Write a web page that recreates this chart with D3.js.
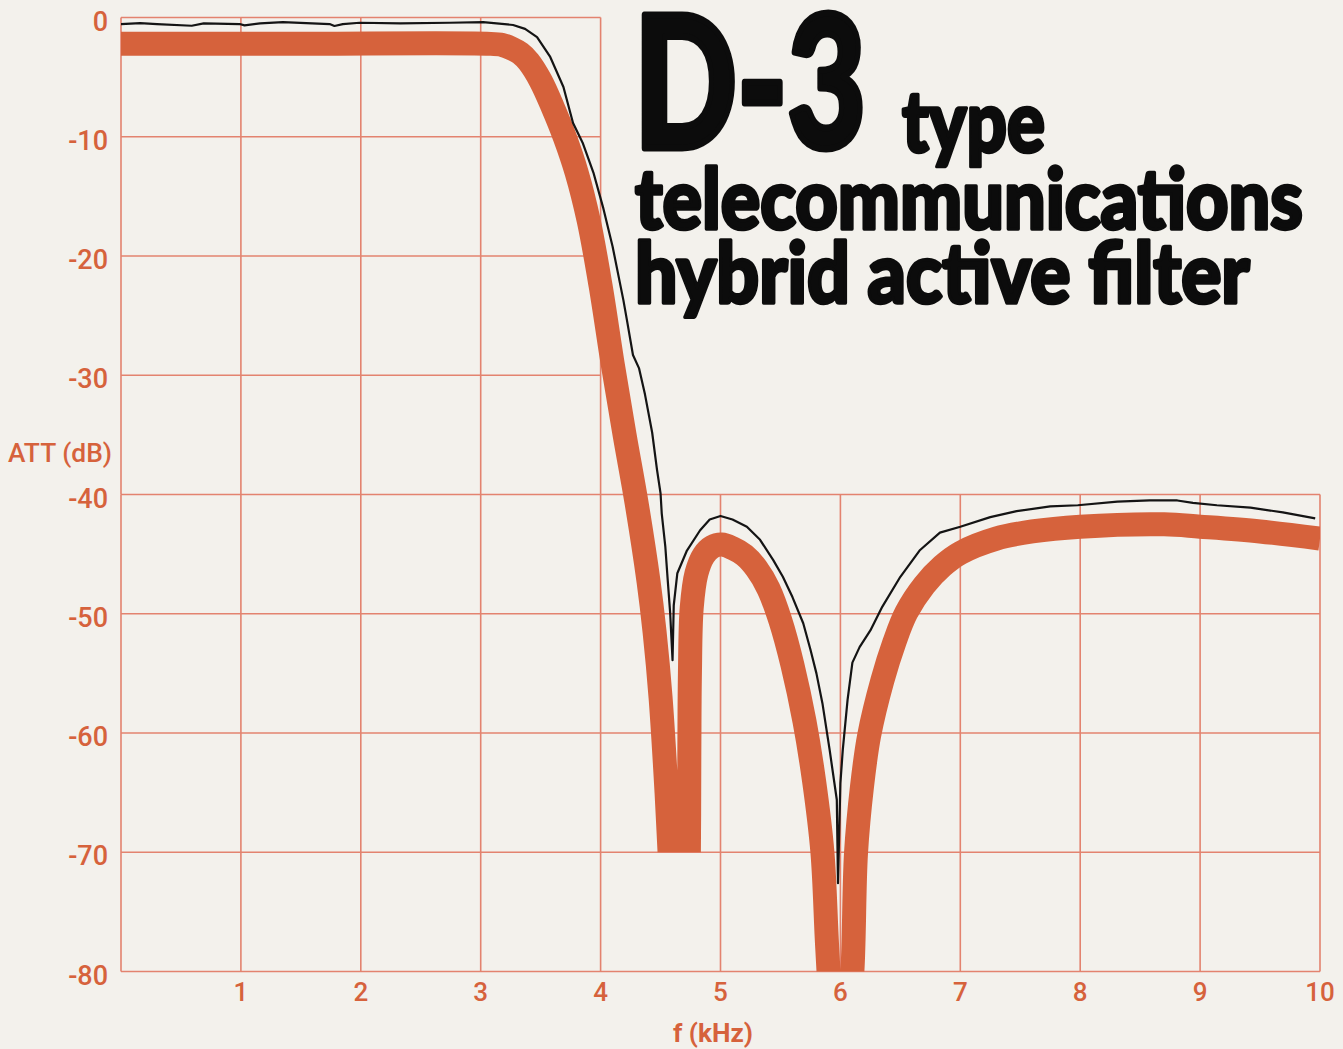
<!DOCTYPE html>
<html>
<head>
<meta charset="utf-8">
<script src="https://cdn.jsdelivr.net/npm/d3@7"></script>
<style>
  html, body { margin: 0; padding: 0; background: #f3f1ec; }
  svg { display: block; }
</style>
</head>
<body>
<svg id="chart"></svg>
<script>
const W = 1343, H = 1049;

// axis ticks
const freqTicks = [1, 2, 3, 4, 5, 6, 7, 8, 9, 10];
const attTicks = [0, -10, -20, -30, -40, -50, -60, -70, -80];
// grid: upper part only left of 4 kHz
const upperGridKHz = [0, 1, 2, 3, 4];
const lowerGridKHz = [0, 1, 2, 3, 4, 5, 6, 7, 8, 9, 10];
const upperGridDB = [0, -10, -20, -30];
const lowerGridDB = [-40, -50, -60, -70, -80];

// tolerance mask (thick orange band), centre line
const maskKHz = [0, 1.5, 3.05, 3.18, 3.26, 3.33, 3.40, 3.50, 3.60, 3.70, 3.80, 3.90, 4.00, 4.10, 4.20, 4.30, 4.40, 4.45, 4.50, 4.55, 4.58, 4.62, 4.67, 4.72, 4.735, 4.74, 4.745, 4.76, 4.80, 4.86, 4.93, 5.01, 5.10, 5.20, 5.30, 5.40, 5.50, 5.60, 5.70, 5.78, 5.85, 5.89, 5.94, 5.99, 6.05, 6.10, 6.13, 6.18, 6.24, 6.35, 6.45, 6.55, 6.70, 6.85, 7.0, 7.3, 7.6, 8.0, 8.7, 9.0, 9.5, 10];
const maskDB = [-2.2, -2.2, -2.2, -2.3, -2.6, -3.0, -3.7, -5.3, -7.5, -10.0, -13.0, -17.0, -22.5, -29.0, -35.0, -40.7, -47.3, -51.5, -57.0, -65.0, -71.0, -78, -82, -78, -72, -62, -55, -49.5, -46.6, -45.1, -44.4, -44.2, -44.5, -45.1, -46.2, -47.9, -50.6, -54.3, -59.0, -64.0, -70.0, -78, -86, -90, -86, -80, -70.1, -64.5, -60.2, -55.6, -52.4, -49.9, -47.6, -46.0, -44.9, -43.7, -43.1, -42.7, -42.5, -42.7, -43.1, -43.7];

// measured response (black trace)
const measKHz = [0, 0.16, 0.30, 0.59, 0.69, 0.99, 1.03, 1.16, 1.35, 1.74, 1.78, 1.85, 1.99, 2.33, 2.74, 3.02, 3.27, 3.37, 3.47, 3.58, 3.69, 3.77, 3.85, 3.94, 4.02, 4.10, 4.19, 4.22, 4.27, 4.32, 4.37, 4.43, 4.47, 4.50, 4.51, 4.54, 4.56, 4.58, 4.60, 4.61, 4.64, 4.72, 4.83, 4.91, 5.00, 5.10, 5.22, 5.33, 5.44, 5.52, 5.60, 5.69, 5.75, 5.80, 5.85, 5.91, 5.97, 5.98, 6.00, 6.02, 6.06, 6.10, 6.16, 6.25, 6.35, 6.50, 6.66, 6.83, 7.00, 7.25, 7.47, 7.75, 7.98, 8.31, 8.58, 8.81, 8.94, 9.14, 9.42, 9.69, 9.96];
const measDB = [-0.55, -0.47, -0.55, -0.69, -0.49, -0.55, -0.66, -0.49, -0.38, -0.55, -0.71, -0.55, -0.44, -0.49, -0.44, -0.38, -0.63, -0.95, -1.64, -3.31, -5.83, -8.85, -10.5, -13.0, -15.9, -19.2, -23.7, -25.4, -28.3, -29.4, -31.6, -34.8, -37.9, -39.9, -41.6, -44.4, -47.2, -49.9, -53.9, -49.3, -46.6, -44.7, -43.0, -42.1, -41.8, -42.1, -42.7, -43.8, -45.5, -46.9, -48.6, -50.8, -53.0, -55.0, -57.5, -61.4, -65.6, -72.6, -64.2, -61.4, -57.2, -54.1, -52.8, -51.4, -49.4, -46.9, -44.7, -43.2, -42.7, -41.9, -41.4, -41.0, -40.9, -40.6, -40.5, -40.5, -40.7, -40.9, -41.1, -41.5, -42.0];

// floors where the mask is cut off
const floorSplitKHz = 5.3;
const floorLeftDB = -70;
const floorRightDB = -80;

const titleLines = ["D-3", "type", "telecommunications", "hybrid active filter"];

const red = "#d6623c";
const gridColor = "#e3836f";

const svg = d3.select("#chart").attr("width", W).attr("height", H);

const x = d3.scaleLinear().domain([0, 10]).range([121, 1320]);
const y = d3.scaleLinear().domain([0, -80]).range([17.5, 971.5]);

svg.append("rect").attr("width", W).attr("height", H).attr("fill", "#f3f1ec");

// grid
const grid = svg.append("g").attr("stroke", gridColor).attr("stroke-width", 1.6);
grid.selectAll("line.vu").data(upperGridKHz).join("line")
  .attr("x1", d => x(d)).attr("x2", d => x(d))
  .attr("y1", y(0)).attr("y2", y(-40));
grid.selectAll("line.vl").data(lowerGridKHz).join("line")
  .attr("x1", d => x(d)).attr("x2", d => x(d))
  .attr("y1", y(-40)).attr("y2", y(-80));
grid.selectAll("line.hu").data(upperGridDB).join("line")
  .attr("x1", x(0)).attr("x2", x(4))
  .attr("y1", d => y(d)).attr("y2", d => y(d));
grid.selectAll("line.hl").data(lowerGridDB).join("line")
  .attr("x1", x(0)).attr("x2", x(10))
  .attr("y1", d => y(d)).attr("y2", d => y(d));

// clip for the mask band
const clip = svg.append("clipPath").attr("id", "maskClip");
clip.append("rect")
  .attr("x", x(0)).attr("y", 0)
  .attr("width", x(floorSplitKHz) - x(0)).attr("height", y(floorLeftDB));
clip.append("rect")
  .attr("x", x(floorSplitKHz)).attr("y", 0)
  .attr("width", x(10) - x(floorSplitKHz)).attr("height", y(floorRightDB));

const maskData = d3.zip(maskKHz, maskDB);
const measData = d3.zip(measKHz, measDB);

svg.append("path")
  .datum(maskData)
  .attr("clip-path", "url(#maskClip)")
  .attr("fill", "none")
  .attr("stroke", red)
  .attr("stroke-width", 24)
  .attr("stroke-linejoin", "round")
  .attr("d", d3.line().x(d => x(d[0])).y(d => y(d[1])).curve(d3.curveCatmullRom.alpha(0.5)));

svg.append("path")
  .datum(measData)
  .attr("fill", "none")
  .attr("stroke", "#141414")
  .attr("stroke-width", 2.2)
  .attr("stroke-linejoin", "round")
  .attr("d", d3.line().x(d => x(d[0])).y(d => y(d[1])));

// axis labels
const labelFont = "Roboto, 'DejaVu Sans', sans-serif";
svg.append("g").selectAll("text").data(attTicks).join("text")
  .attr("x", 108).attr("y", d => y(d) + 13)
  .attr("text-anchor", "end")
  .attr("font-family", labelFont).attr("font-size", 27).attr("font-weight", 500)
  .attr("fill", red)
  .text(d => d === 0 ? "0" : "-" + Math.abs(d));

svg.append("g").selectAll("text").data(freqTicks).join("text")
  .attr("x", d => x(d)).attr("y", 1001)
  .attr("text-anchor", "middle")
  .attr("font-family", labelFont).attr("font-size", 26).attr("font-weight", 500)
  .attr("fill", red)
  .text(d => d);

svg.append("text")
  .attr("x", 8).attr("y", 462)
  .attr("textLength", 104).attr("lengthAdjust", "spacingAndGlyphs")
  .attr("font-family", labelFont).attr("font-size", 26).attr("font-weight", 500)
  .attr("fill", red)
  .text("ATT (dB)");

svg.append("text")
  .attr("x", 673).attr("y", 1042)
  .attr("textLength", 80).attr("lengthAdjust", "spacingAndGlyphs")
  .attr("font-family", labelFont).attr("font-size", 26).attr("font-weight", 700)
  .attr("fill", red)
  .text("f (kHz)");

// title block: heavy type squeezed to the widths of the original
const titleFont = "Lato, Roboto, 'DejaVu Sans', sans-serif";
const titleLayout = [
  { x: 634, y: 148, size: 184, len: 232 },
  { x: 902, y: 152, size: 86, len: 143 },
  { x: 635, y: 229, size: 84, len: 668 },
  { x: 635, y: 303, size: 84, len: 615 }
];
const title = svg.append("g").attr("fill", "#0c0c0c").attr("stroke", "#0c0c0c")
  .attr("stroke-linejoin", "round")
  .attr("font-family", titleFont).attr("font-weight", 900);
title.selectAll("text").data(titleLines).join("text")
  .attr("font-size", (d, i) => titleLayout[i].size)
  .attr("stroke-width", (d, i) => i === 0 ? 7 : 3.5)
  .text(d => d)
  .each(function (d, i) {
    const L = titleLayout[i];
    const w = this.getBBox().width;
    const s = L.len / w;
    d3.select(this).attr("transform", `translate(${L.x},${L.y}) scale(${s},1)`);
  });
</script>
</body>
</html>
